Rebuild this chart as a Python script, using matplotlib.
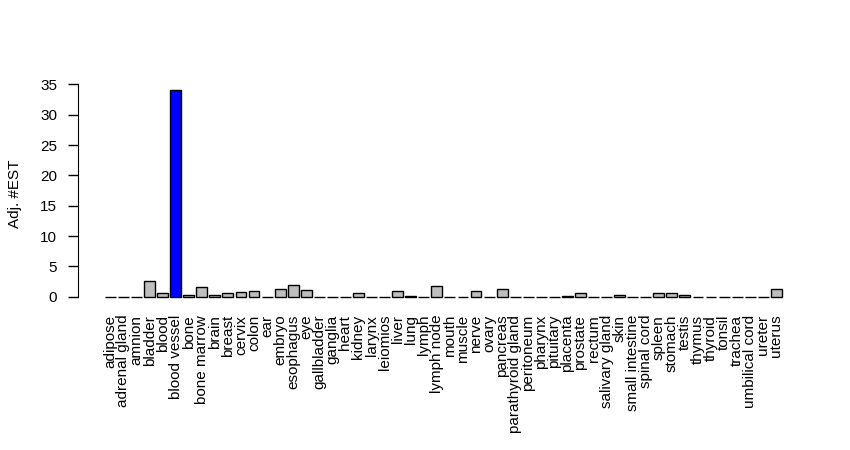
import numpy as np
import matplotlib
matplotlib.use('Agg')
from matplotlib import pyplot as plt

plt.rcParams['font.family'] = ['Liberation Sans', 'DejaVu Sans']

# tissue categories and adjusted EST counts
tissues = ['adipose', 'adrenal gland', 'amnion', 'bladder', 'blood', 'blood vessel',
           'bone', 'bone marrow', 'brain', 'breast', 'cervix', 'colon', 'ear',
           'embryo', 'esophagus', 'eye', 'gallbladder', 'ganglia', 'heart',
           'kidney', 'larynx', 'leiomios', 'liver', 'lung', 'lymph', 'lymph node',
           'mouth', 'muscle', 'nerve', 'ovary', 'pancreas', 'parathyroid gland',
           'peritoneum', 'pharynx', 'pituitary', 'placenta', 'prostate', 'rectum',
           'salivary gland', 'skin', 'small intestine', 'spinal cord', 'spleen',
           'stomach', 'testis', 'thymus', 'thyroid', 'tonsil', 'trachea',
           'umbilical cord', 'ureter', 'uterus']
est_counts = [0, 0, 0, 2.6, 0.6, 34.0,
              0.3, 1.6, 0.3, 0.65, 0.8, 1.0, 0,
              1.3, 1.9, 1.1, 0, 0, 0,
              0.65, 0, 0, 1.0, 0.15, 0, 1.75,
              0, 0, 1.0, 0, 1.3, 0,
              0, 0, 0, 0.15, 0.65, 0,
              0, 0.35, 0, 0, 0.65,
              0.65, 0.35, 0, 0, 0, 0,
              0, 0, 1.3]
highlight = 'blood vessel'

colors = ['#0000FF' if t == highlight else '#BEBEBE' for t in tissues]

fig = plt.figure(figsize=(8.5, 4.5), dpi=100)
ax = fig.add_axes([0.0916, 0.322, 0.860, 0.496])

# R barplot style: width 1, space 0.2
x = 0.7 + 1.2 * np.arange(len(tissues))
ax.bar(x, est_counts, width=1.0, color=colors, edgecolor='black', linewidth=1.0)

ax.set_xlim(-2.29, 64.89)
ax.set_ylim(-1.36, 35.4)

ax.set_xticks(x)
ax.set_xticklabels(tissues, rotation=90, fontsize=11, va='top', ha='center')
ax.tick_params(axis='x', length=0, pad=7)

ax.set_yticks(np.arange(0, 36, 5))
ax.set_yticklabels([str(v) for v in range(0, 36, 5)], fontsize=11, rotation=0)
ax.tick_params(axis='y', length=7, width=1, pad=8)
ax.set_ylabel('Adj. #EST', fontsize=11, labelpad=13)

for s in ['top', 'right', 'bottom']:
    ax.spines[s].set_visible(False)
ax.spines['left'].set_bounds(0, 35)

fig.savefig('out.png', dpi=100)
